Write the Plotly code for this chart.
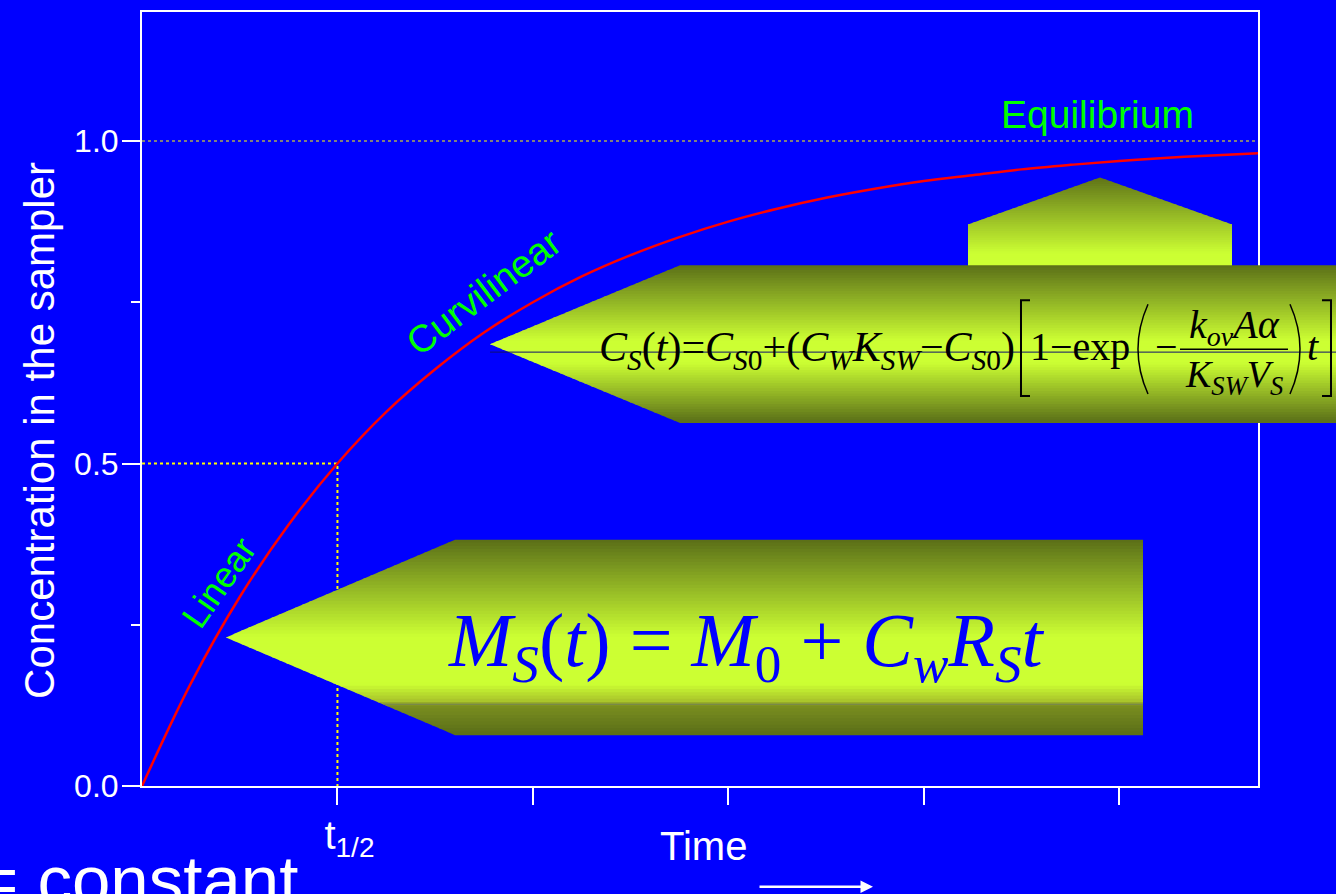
import plotly.graph_objects as go

# curve (time in half-life units, concentration normalised)
time = [0, 0.25, 0.5, 0.75, 1.0, 1.25, 1.5, 1.75, 2.0, 2.25, 2.5, 2.75, 3.0,
        3.25, 3.5, 3.75, 4.0, 4.25, 4.5, 4.75, 5.0, 5.25, 5.5, 5.71]
conc = [0, 0.159, 0.293, 0.405, 0.5, 0.580, 0.646, 0.703, 0.750, 0.790, 0.823,
        0.851, 0.875, 0.895, 0.912, 0.926, 0.938, 0.947, 0.956, 0.963, 0.969,
        0.974, 0.978, 0.981]
half_x = [0, 1, 1]
half_y = [0.5, 0.5, 0]
equil_x = [0, 5.71]
equil_y = [1.0, 1.0]
x_ticks = [1, 2, 3, 4, 5]
x_ticktext = ["t<sub>1/2</sub>", "", "", "", ""]
y_ticks = [0, 0.5, 1.0]
y_ticktext = ["0.0", "0.5", "1.0"]
y_minor = [0.25, 0.75]

W, H = 1336, 894
L, R, T, B = 142, 1258, 10, 786
BLUE = "#0000ff"
GREEN = "#00ff00"
SANS = "Liberation Sans, Arial, sans-serif"
SERIF = "Liberation Serif, Times New Roman, serif"


def px(x):
    return (x - L) / (R - L)


def py(y):
    return (B - y) / (B - T)


def hex2rgb(h):
    h = h.lstrip("#")
    return [int(h[i:i + 2], 16) for i in (0, 2, 4)]


def mix(stops, t):
    for (t0, c0), (t1, c1) in zip(stops, stops[1:]):
        if t0 <= t <= t1:
            f = 0 if t1 == t0 else (t - t0) / (t1 - t0)
            a, b = hex2rgb(c0), hex2rgb(c1)
            return "rgb(%d,%d,%d)" % tuple(round(a[i] + (b[i] - a[i]) * f) for i in range(3))
    return stops[-1][1]


def poly(pts, color):
    d = "M " + " L ".join("%.5f,%.5f" % (px(x), py(y)) for x, y in pts) + " Z"
    return dict(type="path", path=d, xref="paper", yref="paper",
                fillcolor=color, line=dict(width=0), layer="above")


def left_arrow(tip_x, body_x, right_x, top, bot, stops, n=60):
    yc = (top + bot) / 2
    half = (bot - top) / 2
    edges = sorted(set([top + (bot - top) * i / n for i in range(n + 1)] + [yc]))

    def lx(y):
        return tip_x + (body_x - tip_x) * abs(y - yc) / half

    out = []
    for y1, y2 in zip(edges, edges[1:]):
        a, b = max(top, y1 - 0.5), min(bot, y2 + 0.5)
        pts = [(lx(a), a), (right_x, a), (right_x, b), (lx(b), b)]
        if a < yc < b:
            pts.append((tip_x, yc))
        out.append(poly(pts, mix(stops, ((y1 + y2) / 2 - top) / (bot - top))))
    return out


def up_arrow(cx, apex, shoulder, bot, hw, stops, n=40):
    edges = sorted(set([apex + (bot - apex) * i / n for i in range(n + 1)] + [shoulder]))

    def w(y):
        return hw * min(1, (y - apex) / (shoulder - apex))

    out = []
    for y1, y2 in zip(edges, edges[1:]):
        a, b = max(apex, y1 - 0.5), min(bot, y2 + 0.5)
        pts = [(cx - w(a), a), (cx + w(a), a)]
        if a < shoulder < b:
            pts.append((cx + hw, shoulder))
        pts += [(cx + w(b), b), (cx - w(b), b)]
        if a < shoulder < b:
            pts.append((cx - hw, shoulder))
        out.append(poly(pts, mix(stops, ((y1 + y2) / 2 - apex) / (bot - apex))))
    return out


DARK, BRIGHT = "#5a6e18", "#ccff33"

shapes = []
shapes += up_arrow(1100, 176, 223, 266, 132, [(0, "#5f7318"), (0.85, BRIGHT), (1, BRIGHT)])
shapes += left_arrow(490, 680, 1400, 264, 422,
                     [(0, DARK), (0.48, BRIGHT), (0.62, BRIGHT), (1, DARK)])
shapes += left_arrow(226, 455, 1143, 539, 735,
                     [(0, DARK), (0.5, BRIGHT), (0.74, BRIGHT), (0.84, "#a4bc2a"),
                      (0.845, "#7c9020"), (1, DARK)])


def seg(d, color="black", width=1.5):
    return dict(type="path", path=d, xref="paper", yref="paper",
                line=dict(color=color, width=width), layer="above")


def pth(pts):
    return "M " + " L ".join("%.5f,%.5f" % (px(x), py(y)) for x, y in pts)


def curve(x0, y0, xc, yc, x1, y1):
    return "M %.5f,%.5f Q %.5f,%.5f %.5f,%.5f" % (px(x0), py(y0), px(xc), py(yc), px(x1), py(y1))


# rule of the second arrow, brackets and fraction bar of the long equation
shapes.append(seg(pth([(490, 351), (1400, 351)]), "#10106e", 1))
shapes.append(seg(pth([(383, 704), (1143, 704)]), "#6d7a55", 1))
shapes.append(seg(pth([(1030, 299), (1021, 299), (1021, 395), (1030, 395)]), "black", 2))
shapes.append(seg(pth([(1322, 299), (1331, 299), (1331, 395), (1322, 395)]), "black", 2))
shapes.append(seg(curve(1148, 303, 1128, 348, 1148, 393), "black", 1.5))
shapes.append(seg(curve(1290, 303, 1310, 348, 1290, 393), "black", 1.5))
shapes.append(seg(pth([(1180, 348), (1288, 348)]), "black", 1.5))

fig = go.Figure()
fig.add_trace(go.Scatter(x=equil_x, y=equil_y, mode="lines",
                         line=dict(color="#ffff00", width=1.2, dash="dot"), hoverinfo="skip"))
fig.add_trace(go.Scatter(x=half_x, y=half_y, mode="lines",
                         line=dict(color="#ffff00", width=2, dash="dot"), hoverinfo="skip"))
fig.add_trace(go.Scatter(x=time, y=conc, mode="lines", line_shape="spline",
                         line=dict(color="#ff0000", width=2.5), hoverinfo="skip"))


def txt(x, y, s, size, color="white", font=SANS, angle=0, xanchor="center", yanchor="middle"):
    return dict(x=px(x), y=py(y), xref="paper", yref="paper", text=s, showarrow=False,
                font=dict(family=font, size=size, color=color), textangle=angle,
                xanchor=xanchor, yanchor=yanchor)


ann = [
    txt(40, 430, "Concentration in the sampler", 42, angle=-90),
    txt(703, 846, "Time", 40),
    txt(-24, 840, "= constant", 69, xanchor="left", yanchor="top"),
    txt(1097, 113, "Equilibrium", 39, GREEN),
    txt(219, 582, "Linear", 36, GREEN, angle=-55),
    txt(484, 291, "Curvilinear", 38, GREEN, angle=-37),
    txt(746, 646, "<i>M</i><sub><i>S</i></sub>(<i>t</i>) = <i>M</i><sub>0</sub> + "
                  "<i>C</i><sub><i>w</i></sub><i>R</i><sub><i>S</i></sub><i>t</i>",
        76, BLUE, SERIF),
    txt(1017, 349, "<i>C</i><sub><i>S</i></sub>(<i>t</i>)=<i>C</i><sub><i>S</i>0</sub>+"
                   "(<i>C</i><sub><i>W</i></sub><i>K</i><sub><i>SW</i></sub>\u2212<i>C</i>"
                   "<sub><i>S</i>0</sub>)", 42, "black", SERIF, xanchor="right"),
    txt(1080, 345, "1\u2212exp", 40, "black", SERIF),
    txt(1166, 345, "\u2212", 40, "black", SERIF),
    txt(1234, 326, "<i>k</i><sub><i>ov</i></sub><i>A\u03b1</i>", 40, "black", SERIF),
    txt(1234, 376, "<i>K</i><sub><i>SW</i></sub><i>V</i><sub><i>S</i></sub>", 38, "black", SERIF),
    txt(1313, 345, "<i>t</i>", 40, "black", SERIF),
]
ann.append(dict(x=px(873), y=py(887), ax=-115, ay=0, xref="paper", yref="paper",
                showarrow=True, arrowhead=2, arrowsize=1, arrowwidth=2.5,
                arrowcolor="white", text=""))

fig.update_layout(
    width=W, height=H,
    margin=dict(l=L, r=W - R, t=T, b=H - B),
    paper_bgcolor=BLUE, plot_bgcolor=BLUE,
    showlegend=False,
    font=dict(family=SANS, color="white"),
    shapes=shapes,
    annotations=ann,
    xaxis=dict(range=[0, 5.71], tickvals=x_ticks, ticktext=x_ticktext,
               ticks="outside", ticklen=17, tickwidth=2, tickcolor="white",
               tickfont=dict(size=40, color="white"), ticklabelshift=12,
               ticklabelstandoff=-4,
               showline=True, linecolor="white", linewidth=2, mirror=True,
               showgrid=False, zeroline=False),
    yaxis=dict(range=[0, 1.2], tickvals=y_ticks, ticktext=y_ticktext,
               ticks="outside", ticklen=18, tickwidth=2, tickcolor="white",
               tickfont=dict(size=32, color="white"), ticklabelstandoff=-3,
               minor=dict(tickvals=y_minor, ticks="outside", ticklen=9, tickwidth=2,
                          tickcolor="white"),
               showline=True, linecolor="white", linewidth=2, mirror=True,
               showgrid=False, zeroline=False),
)

fig.write_html("out.html", config={"displayModeBar": False},
               post_script="document.body.style.margin='0';document.body.style.overflow='hidden';")
